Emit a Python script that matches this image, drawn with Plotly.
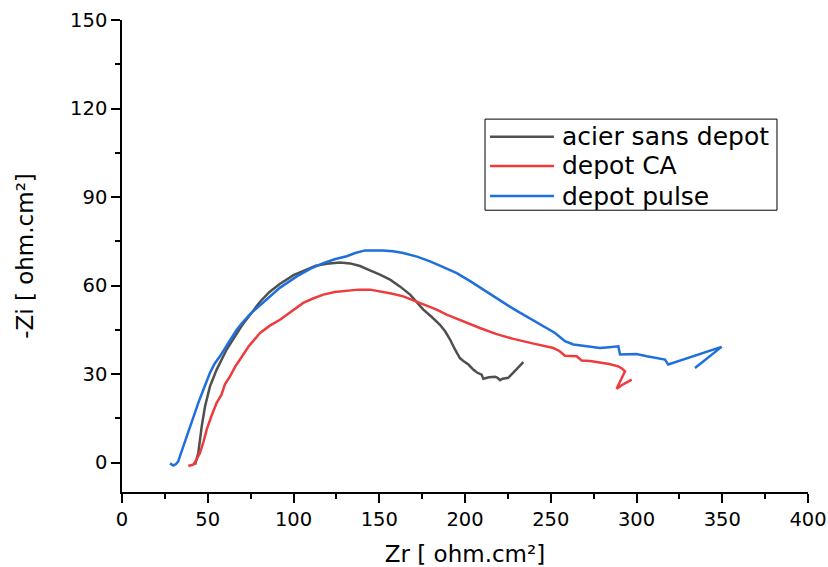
import plotly.graph_objects as go

# ---- data ----
names = ["acier sans depot", "depot CA", "depot pulse"]
colors = ["#505050", "#ee3b3e", "#1f6fdc"]

acier_x = [42.6, 43.5, 44.5, 46.5, 48.4, 51.3, 55.2, 61, 65.9, 70, 74.6, 80.5, 86, 92, 100, 107.7, 113,
           119.4, 127, 133, 138.8, 144.6, 150.4, 156.3, 162, 168, 171.5, 175.7, 180.5, 185.4, 188.5,
           191.3, 194, 197, 199.5, 202, 204.8, 207, 209.7, 210.7, 214, 217.5, 219, 220.4, 222, 225.2,
           229, 234]
acier_y = [-0.7, 1, 3.3, 12.3, 19, 25.8, 31.5, 38.3, 42.8, 46.5, 50, 54.5, 57.8, 60.5, 63.5, 65.5, 66.7,
           67.4, 67.8, 67.5, 66.6, 65.1, 63.7, 62, 59.7, 56.9, 54.4, 51.8, 49.4, 46.7, 44.4,
           41.7, 38.5, 35.4, 34.2, 33.2, 31.5, 30.5, 29.8, 28.4, 28.9, 29.1, 28.7, 27.9, 28.4, 28.7,
           31, 34]

ca_x = [38.7, 41.6, 43, 45.5, 47.5, 49.4, 52, 55.2, 58, 60, 63, 66, 68.8, 74, 80.5, 86, 92.1, 98, 105.7,
        111, 117.4, 124, 131, 138, 144.6, 150.4, 157, 164, 172, 177, 183.5, 189.3, 199, 208.7, 218,
        228.2, 240, 251.5, 255, 258.3, 265.1, 268, 273, 278.7, 284, 289.4, 291.5, 293.3, 290.5, 288.4,
        292.5, 297.2]
ca_y = [-1.2, -0.7, 0.5, 3.3, 7, 11.2, 15.5, 20.2, 23, 26.5, 29.2, 32.5, 34.9, 39.5, 43.9, 46.3, 48.4, 51,
        54.1, 55.5, 56.9, 57.8, 58.3, 58.6, 58.6, 58, 57.3, 56.3, 54.5, 53.3, 51.8, 50.1, 47.8, 45.6,
        43.6, 41.9, 40.3, 38.8, 37.8, 36.2, 36, 34.6, 34.4, 34, 33.4, 32.6, 31.9, 30.9, 27.8, 25,
        26.6, 28.1]

pulse_x = [28, 29.9, 31.5, 32.8, 34, 35.7, 37.5, 39.7, 42, 44.5, 48, 51.3, 54, 57.1, 62, 66.9, 70, 75,
           80.5, 86, 92, 101.9, 110, 117.4, 124, 131, 136, 141.7, 147, 152, 158, 164, 172, 179.6, 187,
           195.2, 203, 210.7, 217, 224.3, 230, 236, 244, 252.5, 258.3, 263.2, 270, 278.7, 284, 289.4,
           290.4, 295, 300, 306, 311.8, 316.6, 318.5, 349.6, 334.1]
pulse_y = [-0.3, -1, -0.5, 0.4, 2.5, 5.5, 8.5, 12.3, 16.5, 20.2, 25.5, 30.4, 33.5, 36, 40.5, 45, 47.3,
           50.5, 53.3, 56.2, 59.2, 63.1, 65.7, 67.6, 68.9, 69.9, 71, 71.9, 72, 71.9, 71.6, 71, 69.8,
           68.2, 66.3, 64.2, 61.5, 58.6, 56, 53.5, 51.5, 49.5, 46.8, 43.9, 41.1, 40, 39.5, 38.8, 39.1,
           39.4, 36.6, 36.7, 36.8, 36, 35.4, 34.9, 33.2, 39.2, 32]

series_x = [acier_x, ca_x, pulse_x]
series_y = [acier_y, ca_y, pulse_y]

x_ticks = [0, 50, 100, 150, 200, 250, 300, 350, 400]
y_ticks = [0, 30, 60, 90, 120, 150]

FONT = "DejaVu Sans, Liberation Sans, Arial, sans-serif"

fig = go.Figure()
for n, c, xs, ys in zip(names, colors, series_x, series_y):
    fig.add_trace(go.Scatter(x=xs, y=ys, mode="lines", name=n, showlegend=False,
                             line=dict(color=c, width=2.5, shape="linear")))

# legend drawn as a framed box with swatches and real text labels
leg_x0, leg_x1 = 0.5292, 0.9548
leg_y0, leg_y1 = 0.597, 0.790
sw_x0, sw_x1, txt_x = 0.5364, 0.6297, 0.6385
row_y = [0.7528, 0.6907, 0.6271]

shapes = [dict(type="rect", xref="paper", yref="paper",
               x0=leg_x0, x1=leg_x1, y0=leg_y0, y1=leg_y1,
               line=dict(color="black", width=1), fillcolor="rgba(0,0,0,0)")]
annotations = []
for n, c, ry in zip(names, colors, row_y):
    shapes.append(dict(type="line", xref="paper", yref="paper",
                       x0=sw_x0, x1=sw_x1, y0=ry, y1=ry, line=dict(color=c, width=2.5)))
    annotations.append(dict(xref="paper", yref="paper", x=txt_x, y=ry, text=n, showarrow=False,
                            xanchor="left", yanchor="middle",
                            font=dict(family=FONT, size=25, color="black")))

fig.update_layout(
    width=828, height=567,
    margin=dict(l=122, r=20, t=20, b=75),
    paper_bgcolor="white", plot_bgcolor="white",
    font=dict(family=FONT, color="black"),
    showlegend=False,
    shapes=shapes,
    annotations=annotations,
)

fig.update_xaxes(
    range=[0, 400], tickvals=x_ticks, ticktext=[str(v) for v in x_ticks], automargin=False,
    showgrid=False, zeroline=False, showline=True, linecolor="black", linewidth=1.5,
    ticks="outside", ticklen=9, tickwidth=1.5, tickcolor="black",
    minor=dict(dtick=25, ticks="outside", ticklen=5, tickwidth=1.5, tickcolor="black", showgrid=False),
    tickfont=dict(family=FONT, size=19.5, color="black"),
    title=dict(text="Zr [ ohm.cm²]", font=dict(family=FONT, size=23, color="black"), standoff=17),
)
fig.update_yaxes(
    range=[-10, 150], tickvals=y_ticks, ticktext=[str(v) for v in y_ticks], automargin=False,
    showgrid=False, zeroline=False, showline=True, linecolor="black", linewidth=1.5,
    ticks="outside", ticklen=9, tickwidth=1.5, tickcolor="black",
    minor=dict(tick0=0, dtick=15, ticks="outside", ticklen=5, tickwidth=1.5, tickcolor="black", showgrid=False),
    tickfont=dict(family=FONT, size=19.5, color="black"),
    title=dict(text="-Zi [ ohm.cm²]", font=dict(family=FONT, size=23, color="black"), standoff=30),
)

fig.write_html("out.html")
